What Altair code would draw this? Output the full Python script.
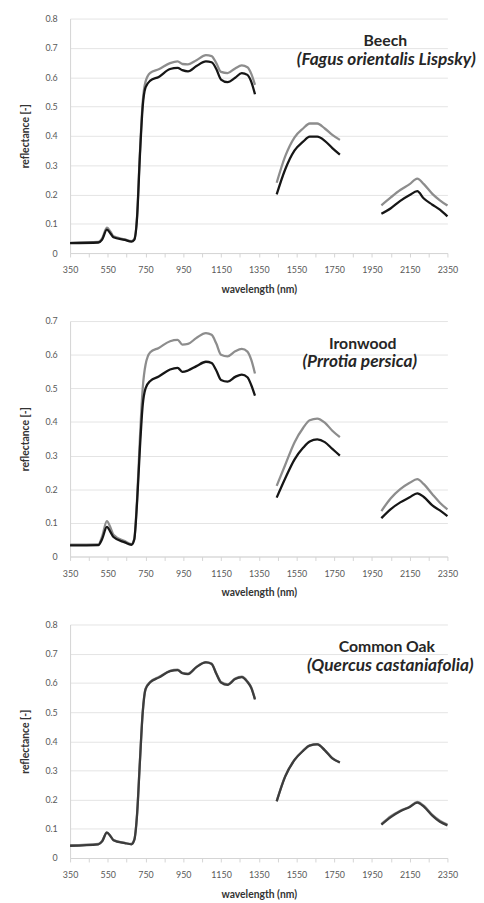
import altair as alt
import pandas as pd

# ---------------- data ----------------
SEG1_WL = [350, 500, 520, 545, 565, 580, 640, 675, 690, 705, 720, 735, 750, 775, 820, 880,
           920, 945, 975, 1020, 1070, 1100, 1125, 1150, 1185, 1225, 1260, 1290, 1310, 1330]
SEG2_WL = [1445, 1490, 1540, 1585, 1620, 1660, 1700, 1740, 1780]
SEG3_WL = [2000, 2050, 2100, 2150, 2190, 2225, 2270, 2310, 2350]

SPECIES_COMMON = ["Beech", "Ironwood", "Common Oak"]
SPECIES_LATIN = ["(Fagus orientalis Lispsky)", "(Prrotia persica)", "(Quercus castaniafolia)"]
Y_MAX = [0.8, 0.7, 0.8]

# Beech
BEECH_GRAY = [0.035, 0.038, 0.05, 0.087, 0.072, 0.057, 0.047, 0.041, 0.047, 0.125, 0.34, 0.515, 0.585, 0.615,
              0.627, 0.648, 0.654, 0.645, 0.644, 0.658, 0.675, 0.672, 0.648, 0.618, 0.614, 0.63, 0.64, 0.634,
              0.612, 0.574,
              0.24, 0.33, 0.395, 0.425, 0.442, 0.442, 0.425, 0.403, 0.386,
              0.163, 0.19, 0.215, 0.235, 0.254, 0.235, 0.202, 0.18, 0.162]
BEECH_BLACK = [0.034, 0.036, 0.046, 0.08, 0.066, 0.054, 0.045, 0.039, 0.045, 0.12, 0.33, 0.5, 0.565, 0.588,
               0.601, 0.628, 0.632, 0.624, 0.62, 0.638, 0.654, 0.651, 0.628, 0.592, 0.583, 0.598, 0.614, 0.608,
               0.585, 0.542,
               0.2, 0.285, 0.35, 0.38, 0.397, 0.397, 0.383, 0.358, 0.336,
               0.134, 0.153, 0.178, 0.198, 0.211, 0.186, 0.165, 0.148, 0.125]

# Ironwood
IRON_GRAY = [0.035, 0.036, 0.06, 0.105, 0.085, 0.065, 0.046, 0.037, 0.052, 0.17, 0.35, 0.5, 0.57, 0.607,
             0.62, 0.64, 0.644, 0.63, 0.632, 0.65, 0.664, 0.659, 0.633, 0.6, 0.595, 0.61, 0.617, 0.609,
             0.585, 0.544,
             0.21, 0.272, 0.34, 0.382, 0.405, 0.41, 0.398, 0.374, 0.355,
             0.135, 0.173, 0.2, 0.219, 0.23, 0.215, 0.185, 0.16, 0.14]
IRON_BLACK = [0.033, 0.034, 0.052, 0.088, 0.072, 0.058, 0.042, 0.035, 0.05, 0.16, 0.32, 0.45, 0.5, 0.522,
              0.535, 0.556, 0.561, 0.549, 0.553, 0.566, 0.579, 0.575, 0.553, 0.525, 0.52, 0.534, 0.541, 0.533,
              0.51, 0.478,
              0.175, 0.232, 0.289, 0.323, 0.342, 0.348, 0.34, 0.32, 0.3,
              0.114, 0.141, 0.161, 0.176, 0.188, 0.177, 0.152, 0.137, 0.12]

# Common Oak
OAK_GRAY = [0.043, 0.048, 0.058, 0.088, 0.075, 0.062, 0.052, 0.048, 0.062, 0.15, 0.33, 0.5, 0.58, 0.604,
            0.62, 0.641, 0.645, 0.634, 0.632, 0.655, 0.671, 0.666, 0.633, 0.603, 0.595, 0.615, 0.621, 0.605,
            0.585, 0.545,
            0.195, 0.28, 0.337, 0.368, 0.386, 0.39, 0.37, 0.342, 0.328,
            0.116, 0.143, 0.162, 0.176, 0.192, 0.179, 0.148, 0.128, 0.115]
OAK_BLACK = [0.042, 0.047, 0.057, 0.087, 0.074, 0.061, 0.051, 0.047, 0.061, 0.148, 0.328, 0.498, 0.578, 0.602,
             0.618, 0.64, 0.644, 0.633, 0.63, 0.654, 0.67, 0.665, 0.631, 0.601, 0.593, 0.613, 0.62, 0.603,
             0.583, 0.543,
             0.194, 0.279, 0.336, 0.367, 0.385, 0.389, 0.369, 0.341, 0.327,
             0.114, 0.14, 0.16, 0.175, 0.19, 0.176, 0.145, 0.124, 0.112]

SERIES = [(BEECH_GRAY, BEECH_BLACK), (IRON_GRAY, IRON_BLACK), (OAK_GRAY, OAK_BLACK)]

# styling / placement
TEXT_POS = [(320, 321), (297, 294), (321.5, 325)]   # centre x of line 1 and line 2 (plot px)
PANEL_H = [238, 239, 237]
GRAY = "#8d8d8d"
DARK = ["#161616", "#161616", "#3c3c3c"]
FONT = "Lato"

WAVELENGTH = SEG1_WL + SEG2_WL + SEG3_WL
SEGMENT = ["a"] * len(SEG1_WL) + ["b"] * len(SEG2_WL) + ["c"] * len(SEG3_WL)


def panel(i):
    gray, black = SERIES[i]
    ymax = Y_MAX[i]
    rows = []
    for s, vals in (("gray", gray), ("black", black)):
        for wl, seg, v in zip(WAVELENGTH, SEGMENT, vals):
            rows.append({"wl": wl, "seg": seg, "r": v, "series": s})
    df = pd.DataFrame(rows)

    x = alt.X(
        "wl:Q",
        scale=alt.Scale(domain=[350, 2350], nice=False, zero=False),
        axis=alt.Axis(
            title="wavelength (nm)",
            values=list(range(350, 2351, 100)),
            labelExpr="(datum.value - 350) % 200 == 0 ? datum.label : ''",
            format="d",
            grid=False,
            tickSize=4,
            tickColor="#d4d4d4",
            domainColor="#d4d4d4",
            labelPadding=9,
            titlePadding=10,
            labelOverlap=False,
            labelFlush=False,
        ),
    )
    n = int(round(ymax * 10))
    y = alt.Y(
        "r:Q",
        scale=alt.Scale(domain=[0, ymax], nice=False),
        axis=alt.Axis(
            title="reflectance [-]",
            values=[k / 10 for k in range(n + 1)],
            format=".1~f",
            grid=True,
            gridColor="#e4e4e4",
            tickSize=0,
            domainColor="#d4d4d4",
            labelPadding=13,
            titlePadding=15,
        ),
    )
    base = alt.Chart(df)
    gray_line = base.transform_filter("datum.series == 'gray'").mark_line(
        color=GRAY, strokeWidth=2.3, interpolate="monotone"
    ).encode(x=x, y=y, detail="seg:N")
    black_line = base.transform_filter("datum.series == 'black'").mark_line(
        color=DARK[i], strokeWidth=2.3, interpolate="monotone"
    ).encode(x=x, y=y, detail="seg:N")

    c1, c2 = TEXT_POS[i]
    t1 = alt.Chart(pd.DataFrame({"t": [SPECIES_COMMON[i]]})).mark_text(
        font=FONT, fontSize=16, fontWeight="bold", color="#262626", align="center", baseline="alphabetic"
    ).encode(text="t:N", x=alt.value(c1), y=alt.value(28))
    t2 = alt.Chart(pd.DataFrame({"t": [SPECIES_LATIN[i]]})).mark_text(
        font=FONT, fontSize=17.5, fontWeight="bold", fontStyle="italic", color="#262626",
        align="center", baseline="alphabetic"
    ).encode(text="t:N", x=alt.value(c2), y=alt.value(47))

    return alt.layer(gray_line, black_line, t1, t2).properties(width=383, height=PANEL_H[i])


chart = alt.vconcat(panel(0), panel(1), panel(2), spacing=22).properties(
    padding={"left": 12, "top": 0, "right": 0, "bottom": 0}
).configure_view(stroke=None).configure_axis(
    labelFont=FONT,
    labelFontSize=9,
    labelColor="#595959",
    titleFont=FONT,
    titleFontSize=10.5,
    titleFontWeight="bold",
    titleColor="#333333",
)

chart.save("out.html", embed_options={"renderer": "svg", "actions": False})
